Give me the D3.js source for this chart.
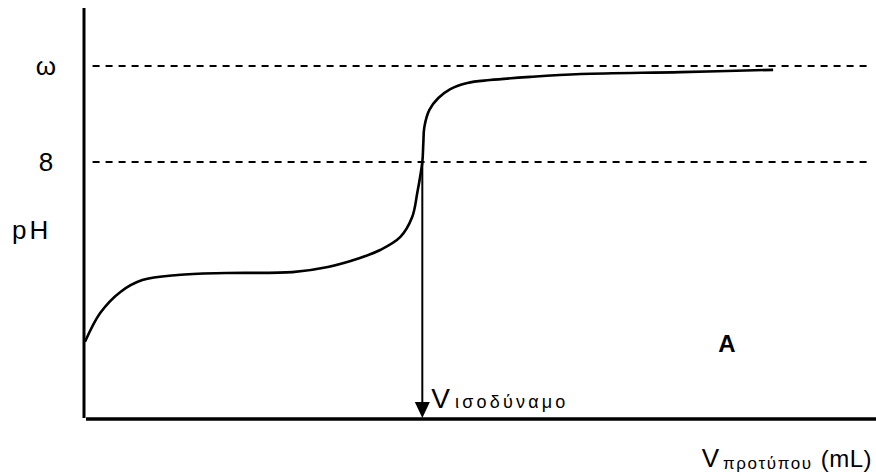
<!DOCTYPE html>
<html>
<head>
<meta charset="utf-8">
<script src="https://cdn.jsdelivr.net/npm/d3@7"></script>
<style>
  html, body { margin: 0; padding: 0; background: #fff; }
  text { font-family: "Liberation Sans", Arial, sans-serif; fill: #000; }
</style>
</head>
<body>
<div id="chart"></div>
<script>
// titrant volume (mL) and pH
var volume = [0, 0.9, 2.1, 3.4, 5.5, 8.4, 12.3, 14.4, 16.3, 17.5, 18.7, 19.4, 19.7, 20.0, 20.06, 20.12, 20.42, 20.95, 21.66, 22.67, 24.0, 26.4, 29.4, 35.3, 40.8];
var pH     = [2.38, 3.28, 3.94, 4.31, 4.47, 4.53, 4.56, 4.72, 5.0, 5.25, 5.66, 6.28, 7.03, 8.0, 8.59, 9.09, 9.63, 10.0, 10.28, 10.47, 10.56, 10.66, 10.75, 10.81, 10.88];

// reference levels on the pH axis
var refLabels = ['ω', '8'];
var refValues = [11, 8];

var equivalenceVolume = 20;

var width = 876, height = 476;
var margin = {top: 8, right: 0, bottom: 58, left: 85};

var svg = d3.select('#chart').append('svg')
    .attr('width', width)
    .attr('height', height);

var xScale = d3.scaleLinear()
    .domain([0, 46.9])
    .range([margin.left, width - margin.right]);

var yScale = d3.scaleLinear()
    .domain([0, 12.75])
    .range([height - margin.bottom, margin.top + 2]);

var points = volume.map(function(v, i) { return {v: v, ph: pH[i]}; });

// dashed reference lines
svg.selectAll('line.ref')
    .data(refValues)
    .enter()
    .append('line')
    .attr('class', 'ref')
    .attr('x1', xScale(0.45))
    .attr('x2', xScale(46.5))
    .attr('y1', function(d) { return yScale(d); })
    .attr('y2', function(d) { return yScale(d); })
    .attr('stroke', '#000')
    .attr('stroke-width', 1.8)
    .attr('stroke-dasharray', '7,6');

svg.selectAll('text.ref')
    .data(refValues)
    .enter()
    .append('text')
    .attr('class', 'ref')
    .attr('x', 46)
    .attr('y', function(d) { return yScale(d) + 9; })
    .attr('text-anchor', 'middle')
    .style('font-size', '26px')
    .text(function(d, i) { return refLabels[i]; });

svg.append('text')
    .attr('x', 12)
    .attr('y', 239)
    .style('font-size', '26px')
    .style('letter-spacing', '3px')
    .text('pH');

// axes drawn as plain lines, no ticks
svg.append('line')
    .attr('x1', xScale(0) - 1).attr('x2', xScale(0) - 1)
    .attr('y1', margin.top).attr('y2', yScale(0))
    .attr('stroke', '#000')
    .attr('stroke-width', 3);

svg.append('line')
    .attr('x1', xScale(0) + 1).attr('x2', width)
    .attr('y1', yScale(0) + 1).attr('y2', yScale(0) + 1)
    .attr('stroke', '#000')
    .attr('stroke-width', 3.5);

// titration curve
var line = d3.line()
    .x(function(d) { return xScale(d.v); })
    .y(function(d) { return yScale(d.ph); })
    .curve(d3.curveCatmullRom.alpha(0.5));

svg.append('path')
    .datum(points)
    .attr('d', line)
    .attr('fill', 'none')
    .attr('stroke', '#000')
    .attr('stroke-width', 2.6);

// arrow down from the equivalence point
var ex = xScale(equivalenceVolume);
var arrowBase = yScale(0) - 16;

svg.append('line')
    .attr('x1', ex).attr('x2', ex)
    .attr('y1', yScale(8)).attr('y2', arrowBase)
    .attr('stroke', '#000')
    .attr('stroke-width', 2);

svg.append('path')
    .attr('d', 'M' + (ex - 7.5) + ',' + arrowBase + 'L' + (ex + 7.5) + ',' + arrowBase + 'L' + ex + ',' + yScale(0) + 'Z')
    .attr('fill', '#000');

var eqLabel = svg.append('text')
    .attr('x', ex + 9)
    .attr('y', 408)
    .style('font-size', '28px');
eqLabel.append('tspan').text('V');
eqLabel.append('tspan')
    .attr('dx', 5)
    .style('font-size', '18px')
    .style('letter-spacing', '3.2px')
    .text('ισοδύναμο');

svg.append('text')
    .attr('x', 727)
    .attr('y', 352)
    .attr('text-anchor', 'middle')
    .style('font-size', '24px')
    .style('font-weight', 'bold')
    .text('A');

var xLabel = svg.append('text')
    .attr('x', 872)
    .attr('y', 467)
    .attr('text-anchor', 'end')
    .style('font-size', '26px');
xLabel.append('tspan').text('V');
xLabel.append('tspan')
    .attr('dx', 4)
    .attr('dy', 2)
    .style('font-size', '17px')
    .style('letter-spacing', '1.6px')
    .text('προτύπου');
xLabel.append('tspan')
    .attr('dx', 8)
    .attr('dy', -2)
    .style('font-size', '24px')
    .style('letter-spacing', '0.5px')
    .text('(mL)');
</script>
</body>
</html>
